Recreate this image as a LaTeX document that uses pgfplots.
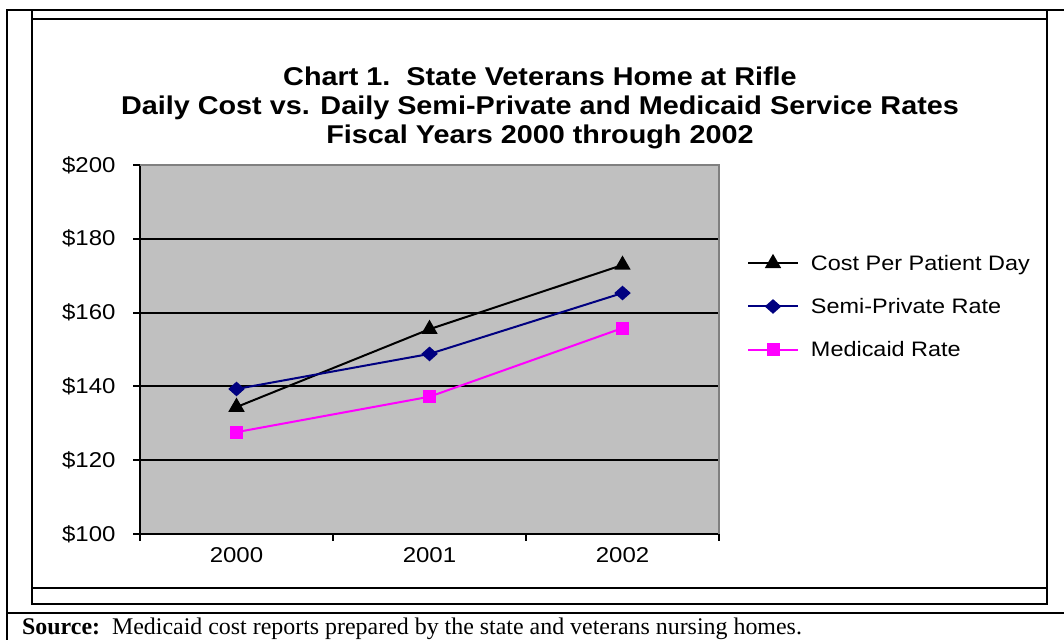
\documentclass[border=0pt]{standalone}
\usepackage{fontspec}
\setmainfont{Liberation Sans}[FakeStretch=1.12]
\newfontfamily\timesfont{Liberation Serif}
\usepackage{pgfplots}
\pgfplotsset{compat=1.18}
\definecolor{plotgray}{RGB}{192,192,192}
\definecolor{bordergray}{RGB}{128,128,128}
\definecolor{navy}{RGB}{0,0,128}
\definecolor{mag}{RGB}{255,0,255}
\begin{document}
\begin{tikzpicture}[x=1bp,y=1bp]
\useasboundingbox (0,0) rectangle (1064,640);
% frames
\draw[line width=2.5bp] (7,0) -- (7,630) -- (1064,630);
\draw[line width=2.5bp] (7,27) -- (1064,27);
\draw[line width=2bp] (32,630) -- (32,36) -- (1047,36) -- (1047,630);
\draw[line width=2bp] (32,621) -- (1047,621);
\draw[line width=2bp] (32,52) -- (1047,52);
% title
\node[align=center,font=\bfseries\fontsize{25.8}{29}\selectfont] at (540,532)
  {Chart 1.\ \ State Veterans Home at Rifle\\Daily Cost vs. Daily Semi-Private and Medicaid Service Rates\\Fiscal Years 2000 through 2002};
% source
\node[anchor=base west,font=\timesfont\fontsize{24}{28}\selectfont,inner sep=0] at (22,5.5)
  {\textbf{Source:}\ \ Medicaid cost reports prepared by the state and veterans nursing homes.};
\begin{axis}[
  at={(140bp,106bp)}, anchor=south west,
  scale only axis, width=579bp, height=369bp,
  xmin=-0.5, xmax=2.5, ymin=100, ymax=200,
  xtick={0,1,2}, xticklabels={2000,2001,2002},
  minor xtick={-0.5,0.5,1.5,2.5},
  ytick={100,120,...,200},
  yticklabel={\$\pgfmathprintnumber{\tick}},
  extra y ticks={120,140,160,180},
  extra y tick labels={},
  extra y tick style={grid=major, major tick length=0pt},
  grid style={black, line width=2bp},
  axis x line*=bottom, axis y line*=left,
  axis line style={black, line width=2bp},
  tick align=outside,
  major tick length=7bp, minor tick length=7bp,
  major x tick style={draw=none},
  tick style={black, line width=2bp},
  axis background/.style={fill=plotgray},
  ticklabel style={font=\fontsize{21.5}{24}\selectfont},
  /pgf/number format/assume math mode=true,
  xticklabel style={yshift=-3bp},
  yticklabel style={xshift=-14bp},
  clip=false,
  legend style={at={(1.048,0.762)}, anchor=north west, draw=none, fill=none,
    font=\fontsize{21}{24}\selectfont, row sep=22.5bp, inner sep=0pt,
    /tikz/every odd column/.append style={column sep=10bp}},
  legend cell align=left,
  legend image code/.code={\draw[#1, mark repeat=2, mark phase=2] plot coordinates {(0bp,0bp)(25bp,0bp)(50bp,0bp)};},
]
\draw[bordergray, line width=2bp] (rel axis cs:0,1) -- (rel axis cs:1,1) -- (rel axis cs:1,0);
\addplot[black, line width=2bp, mark=triangle*, mark size=7.5bp, mark options={fill=black}]
  coordinates {(0,134.4) (1,155.5) (2,172.9)};
\addlegendentry{Cost Per Patient Day}
\addplot[navy, line width=2bp, mark=diamond*, mark size=6bp, mark options={fill=navy, xscale=1.5}]
  coordinates {(0,139.3) (1,148.8) (2,165.3)};
\addlegendentry{Semi-Private Rate}
\addplot[mag, line width=2bp, mark=square*, mark size=5.5bp, mark options={fill=mag}]
  coordinates {(0,127.6) (1,137.2) (2,155.8)};
\addlegendentry{Medicaid Rate}
\end{axis}
\end{tikzpicture}
\end{document}
